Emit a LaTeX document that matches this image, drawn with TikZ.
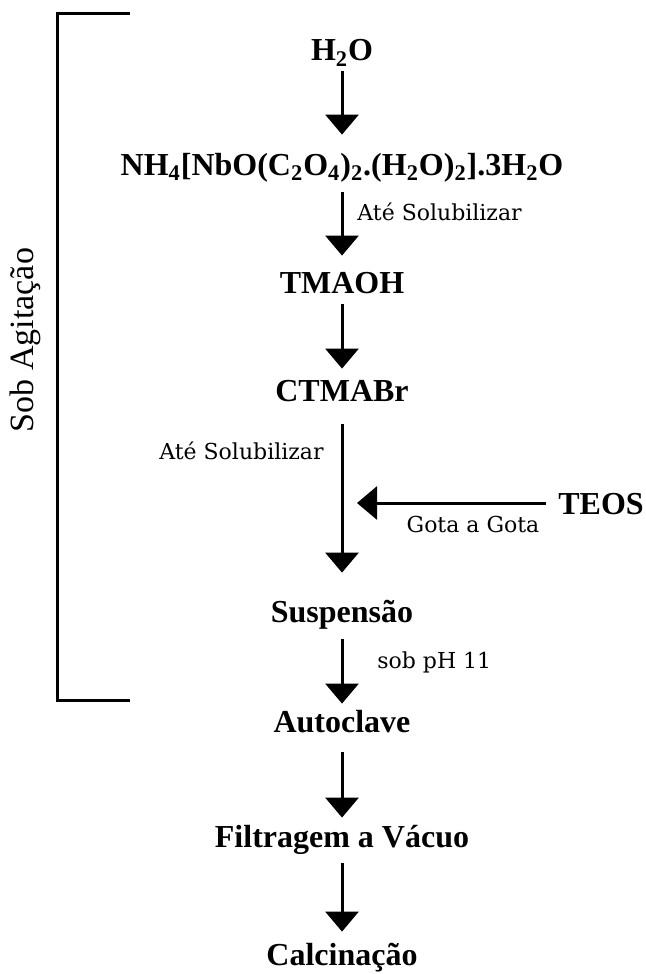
\documentclass[tikz,border=0pt]{standalone}
\usepackage{fontspec}
\setmainfont{Liberation Serif}
\newfontfamily\notafont{DejaVu Serif}
\usetikzlibrary{arrows.meta}
\tikzset{
	etapa/.style={inner sep=0pt, text height=11pt, text depth=0pt, font=\bfseries\fontsize{16}{19}\selectfont},
	nota/.style={inner sep=0pt, font=\notafont\fontsize{11}{13}\selectfont},
	seta/.style={line width=1.5pt, -{Triangle[width=16.5pt, length=10pt]}},
	colchete/.style={line width=1.5pt}
}

\begin{document}
\begin{tikzpicture}[x=0.5pt, y=-0.5pt]
			%%%%% START %%%%%
			\useasboundingbox (0, 0) rectangle (645, 974);
			
			\node[etapa] (h2o) at (342, 50) {H\textsubscript{2}O};
			\node[etapa] (nh4) at (342, 164) {NH\textsubscript{4}[NbO(C\textsubscript{2}O\textsubscript{4})\textsubscript{2}.(H\textsubscript{2}O)\textsubscript{2}].3H\textsubscript{2}O};
			\node[etapa] (tmaoh) at (342, 282) {TMAOH};
			\node[etapa] (ctmabr) at (342, 390) {CTMABr};
			\node[etapa] (susp) at (342, 611) {Suspensão};
			\node[etapa] (auto) at (342, 721) {Autoclave};
			\node[etapa] (filt) at (342, 836) {Filtragem a Vácuo};
			\node[etapa] (calc) at (342, 954) {Calcinação};
			
			\node[etapa] (teos) at (601, 503) {TEOS};
			\coordinate (gota) at (357, 503);
			
			\draw[seta, shorten <=5pt, shorten >=9pt] (h2o.south) -- (nh4.north);
			\draw[seta, shorten <=8.5pt, shorten >=7.5pt] (nh4.south) -- (tmaoh.north);
			\draw[seta, shorten <=5.5pt, shorten >=5pt] (tmaoh.south) -- (ctmabr.north);
			\draw[seta, shorten <=11.5pt, shorten >=13.5pt] (ctmabr.south) -- (susp.north);
			\draw[seta, shorten <=8.5pt, shorten >=3pt] (susp.south) -- (auto.north);
			\draw[seta, shorten <=10pt, shorten >=3.5pt] (auto.south) -- (filt.north);
			\draw[seta, shorten <=8pt, shorten >=5.5pt] (filt.south) -- (calc.north);
			\draw[seta, shorten <=6pt] (teos.west) -- (gota);
			
			\node[nota, anchor=west] (sol1) at (357, 212) {Até Solubilizar};
			\node[nota, anchor=east] (sol2) at (324, 451) {Até Solubilizar};
			\node[nota] (gotaagota) at (473, 524) {Gota a Gota};
			\node[nota, anchor=west] (ph) at (377, 662) {sob pH 11};
			
			% bracket
			\draw[colchete] (130, 14) -- (57, 14) -- (57, 700) -- (130, 700);
			\node[etapa, font=\mdseries\fontsize{17}{19}\selectfont, rotate=90] (agit) at (22, 340) {Sob Agitação};
			
			%%%%% END %%%%%
		\end{tikzpicture}
\end{document}
